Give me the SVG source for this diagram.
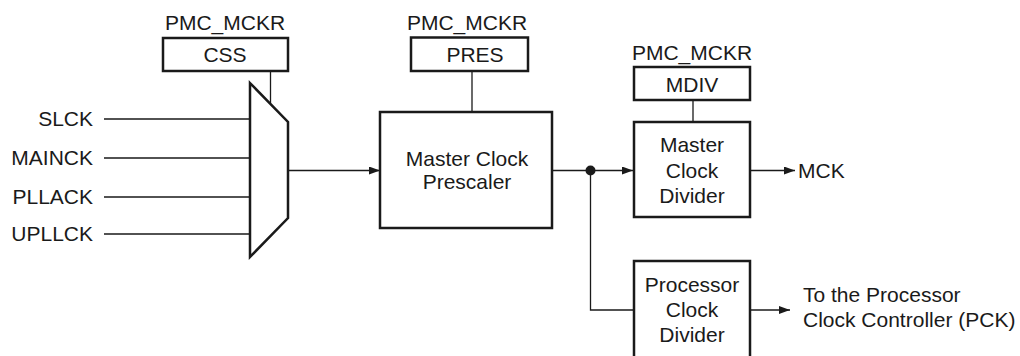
<svg xmlns="http://www.w3.org/2000/svg" width="1020" height="356" viewBox="0 0 1020 356">
<style>
text{font-family:"Liberation Sans",Arial,sans-serif;font-size:21px;fill:#1a1a1a}
.c{text-anchor:middle}
.r{text-anchor:end}
.box{fill:#fff;stroke:#1a1a1a;stroke-width:2.5}
.ln{fill:none;stroke:#1a1a1a;stroke-width:1.3}
</style>
<defs>
<marker id="ah" markerWidth="12" markerHeight="8" refX="11" refY="4" orient="auto" markerUnits="userSpaceOnUse">
<path d="M0,0 L11,4 L0,8 Z" fill="#1a1a1a"/>
</marker>
</defs>
<g id="connectors">
<path class="ln" d="M104,119 H250 M104,158 H250 M104,197 H250 M104,234 H250"/>
<path class="ln" d="M270.5,71 V103"/>
<path class="ln" d="M472,71 V112"/>
<path class="ln" d="M693,100 V122"/>
<path class="ln" d="M288,170.5 H380" marker-end="url(#ah)"/>
<path class="ln" d="M552,170.5 H633" marker-end="url(#ah)"/>
<path class="ln" d="M590.5,170.5 V310 H634"/>
<path class="ln" d="M750,170.5 H795" marker-end="url(#ah)"/>
<path class="ln" d="M750,310 H790" marker-end="url(#ah)"/>
<circle cx="590.5" cy="170.5" r="5" fill="#1a1a1a"/>
</g>
<g id="inputs">
<text class="r" x="93" y="126">SLCK</text>
<text class="r" x="93" y="165">MAINCK</text>
<text class="r" x="93" y="204">PLLACK</text>
<text class="r" x="93" y="241">UPLLCK</text>
</g>
<g id="css">
<text class="c" x="225" y="30">PMC_MCKR</text>
<rect class="box" x="163" y="38" width="125" height="33"/>
<text class="c" x="225" y="62">CSS</text>
</g>
<g id="mux">
<path class="box" d="M250,83 L288,122 V218 L250,257 Z"/>
</g>
<g id="pres">
<text class="c" x="467" y="30">PMC_MCKR</text>
<rect class="box" x="411" y="37.5" width="117" height="33.5"/>
<text class="c" x="475" y="62">PRES</text>
</g>
<g id="prescaler">
<rect class="box" x="380" y="112" width="172" height="116"/>
<text class="c" x="467" y="166">Master Clock</text>
<text class="c" x="467" y="189">Prescaler</text>
</g>
<g id="mdiv">
<text class="c" x="692" y="60">PMC_MCKR</text>
<rect class="box" x="634" y="67" width="116" height="33"/>
<text class="c" x="692" y="92">MDIV</text>
</g>
<g id="master-divider">
<rect class="box" x="634" y="122" width="116" height="95"/>
<text class="c" x="692" y="152">Master</text>
<text class="c" x="692" y="178">Clock</text>
<text class="c" x="692" y="203">Divider</text>
</g>
<g id="mck">
<text x="798" y="178">MCK</text>
</g>
<g id="processor-divider">
<rect class="box" x="634" y="261" width="116" height="110"/>
<text class="c" x="692" y="292">Processor</text>
<text class="c" x="692" y="317">Clock</text>
<text class="c" x="692" y="342">Divider</text>
</g>
<g id="pck">
<text x="803" y="302">To the Processor</text>
<text x="803" y="327">Clock Controller (PCK)</text>
</g>
</svg>
